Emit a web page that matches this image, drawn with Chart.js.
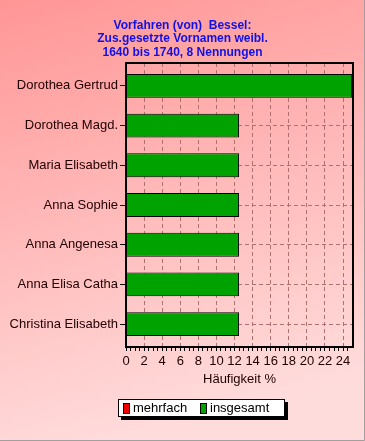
<!DOCTYPE html>
<html>
<head>
<meta charset="utf-8">
<script src="https://cdn.jsdelivr.net/npm/chart.js@4"></script>
<style>
  html, body { margin: 0; padding: 0; background: #ffd0d0; }
  #wrap { width: 365px; height: 441px; }
</style>
</head>
<body>
<div id="wrap"><canvas id="vornamen" width="365" height="441"></canvas></div>
<script>
// Daten
const titelZeilen = ['Vorfahren (von)  Bessel:', 'Zus.gesetzte Vornamen weibl.', '1640 bis 1740, 8 Nennungen'];
const vornamen = ['Dorothea Gertrud', 'Dorothea Magd.', 'Maria Elisabeth', 'Anna Sophie',
                  'Anna Angenesa', 'Anna Elisa Catha', 'Christina Elisabeth'];
const mehrfach = [0, 0, 0, 0, 0, 0, 0];
const insgesamt = [25, 12.5, 12.5, 12.5, 12.5, 12.5, 12.5];
const achseMax = 25.1;
const achseTitel = 'Häufigkeit %';

const schrift = "'Liberation Sans', Arial, sans-serif";
const gitterFarbe = '#b07070';

// Hintergrund mit Verlauf
const hintergrund = {
    id: 'hintergrund',
    beforeDraw(chart) {
        const ctx = chart.ctx;
        const g = ctx.createLinearGradient(0, 0, 120, 441);
        g.addColorStop(0, '#ff9696');
        g.addColorStop(1, '#ffdcdc');
        ctx.save();
        ctx.fillStyle = g;
        ctx.fillRect(0, 0, chart.width, chart.height);
        ctx.strokeStyle = '#a0a0a0';
        ctx.lineWidth = 1;
        ctx.beginPath();
        ctx.moveTo(0, chart.height - 0.5);
        ctx.lineTo(chart.width - 0.5, chart.height - 0.5);
        ctx.lineTo(chart.width - 0.5, 0);
        ctx.stroke();
        ctx.restore();
    }
};

// Rahmen, Titel und Legende
const rahmen = {
    id: 'rahmen',
    afterDatasetsDraw(chart) {
        const ctx = chart.ctx, a = chart.chartArea;
        ctx.save();
        ctx.strokeStyle = '#000';
        ctx.lineWidth = 2;
        ctx.strokeRect(a.left, a.top, a.right - a.left, a.bottom - a.top);
        ctx.restore();
    },
    afterDraw(chart) {
        const ctx = chart.ctx;
        ctx.save();
        // Titel
        ctx.fillStyle = '#1010e8';
        ctx.font = 'bold 12px ' + schrift;
        ctx.textAlign = 'center';
        ctx.textBaseline = 'middle';
        titelZeilen.forEach((z, i) => ctx.fillText(z, 182.5, 25.5 + i * 13.5));

        // Legende
        const lx = 118, ly = 399, lw = 167, lh = 18;
        ctx.fillStyle = '#000';
        ctx.fillRect(lx + 3, ly + 3, lw, lh);
        ctx.fillStyle = '#fff';
        ctx.fillRect(lx, ly, lw, lh);
        ctx.strokeStyle = '#000';
        ctx.lineWidth = 1;
        ctx.strokeRect(lx + 0.5, ly + 0.5, lw - 1, lh - 1);
        const eintraege = [chart.data.datasets[1], chart.data.datasets[0]];
        const xs = [123, 200];
        ctx.font = '13px ' + schrift;
        ctx.textAlign = 'left';
        eintraege.forEach((ds, i) => {
            ctx.fillStyle = ds.backgroundColor;
            ctx.fillRect(xs[i], ly + 4, 6, 11);
            ctx.strokeRect(xs[i] + 0.5, ly + 4.5, 6, 10);
            ctx.fillStyle = '#000';
            ctx.fillText(ds.label, xs[i] + 10, ly + 9.5);
        });
        ctx.restore();
    }
};

new Chart('vornamen', {
    type: 'bar',
    data: {
        labels: vornamen,
        datasets: [{
            label: 'insgesamt',
            data: insgesamt,
            backgroundColor: '#00a200',
            borderColor: '#000',
            borderWidth: 1,
            barPercentage: 0.6,
            categoryPercentage: 1
        }, {
            label: 'mehrfach',
            data: mehrfach,
            backgroundColor: '#f00000',
            borderColor: '#000',
            borderWidth: 0,
            barPercentage: 0.6,
            categoryPercentage: 1
        }]
    },
    options: {
        indexAxis: 'y',
        responsive: false,
        devicePixelRatio: 1,
        animation: false,
        layout: { padding: { top: 63, right: 12, bottom: 50, left: 0 } },
        plugins: {
            legend: { display: false },
            title: { display: false },
            tooltip: { enabled: false }
        },
        scales: {
            y: {
                stacked: true,
                grid: {
                    offset: false,
                    color: gitterFarbe,
                    tickColor: '#000',
                    tickLength: 6,
                    tickBorderDash: []
                },
                border: { display: false, dash: [4, 3] },
                ticks: {
                    color: '#200000',
                    padding: 2,
                    font: { family: schrift, size: 13 }
                },
                afterFit(scale) { scale.width = 126; },
                afterBuildTicks(scale) {
                    // etwas Luft oben und unten wie im Original
                    scale._startValue -= 0.075;
                    scale._valueRange += 0.15;
                }
            },
            x: {
                stacked: false,
                min: 0,
                max: achseMax,
                grid: {
                    color: (c) => (c.tick && c.tick.value > 0 && c.tick.value % 2 === 0) ? gitterFarbe : 'rgba(0,0,0,0)',
                    tickColor: (c) => (c.tick && c.tick.value <= 25) ? '#000' : 'rgba(0,0,0,0)',
                    tickLength: 4,
                    tickBorderDash: []
                },
                border: { display: false, dash: [4, 3] },
                ticks: {
                    stepSize: 0.5,
                    autoSkip: false,
                    maxRotation: 0,
                    color: '#200000',
                    padding: 3,
                    font: { family: schrift, size: 13 },
                    callback: (v) => (v % 2 === 0 && v <= 24) ? String(v) : ''
                },
                title: {
                    display: true,
                    text: achseTitel,
                    color: '#200000',
                    font: { family: schrift, size: 13 },
                    padding: { top: 0, bottom: 4 }
                },
                afterFit(scale) { scale.height = 44; }
            }
        }
    },
    plugins: [hintergrund, rahmen]
});
</script>
</body>
</html>
